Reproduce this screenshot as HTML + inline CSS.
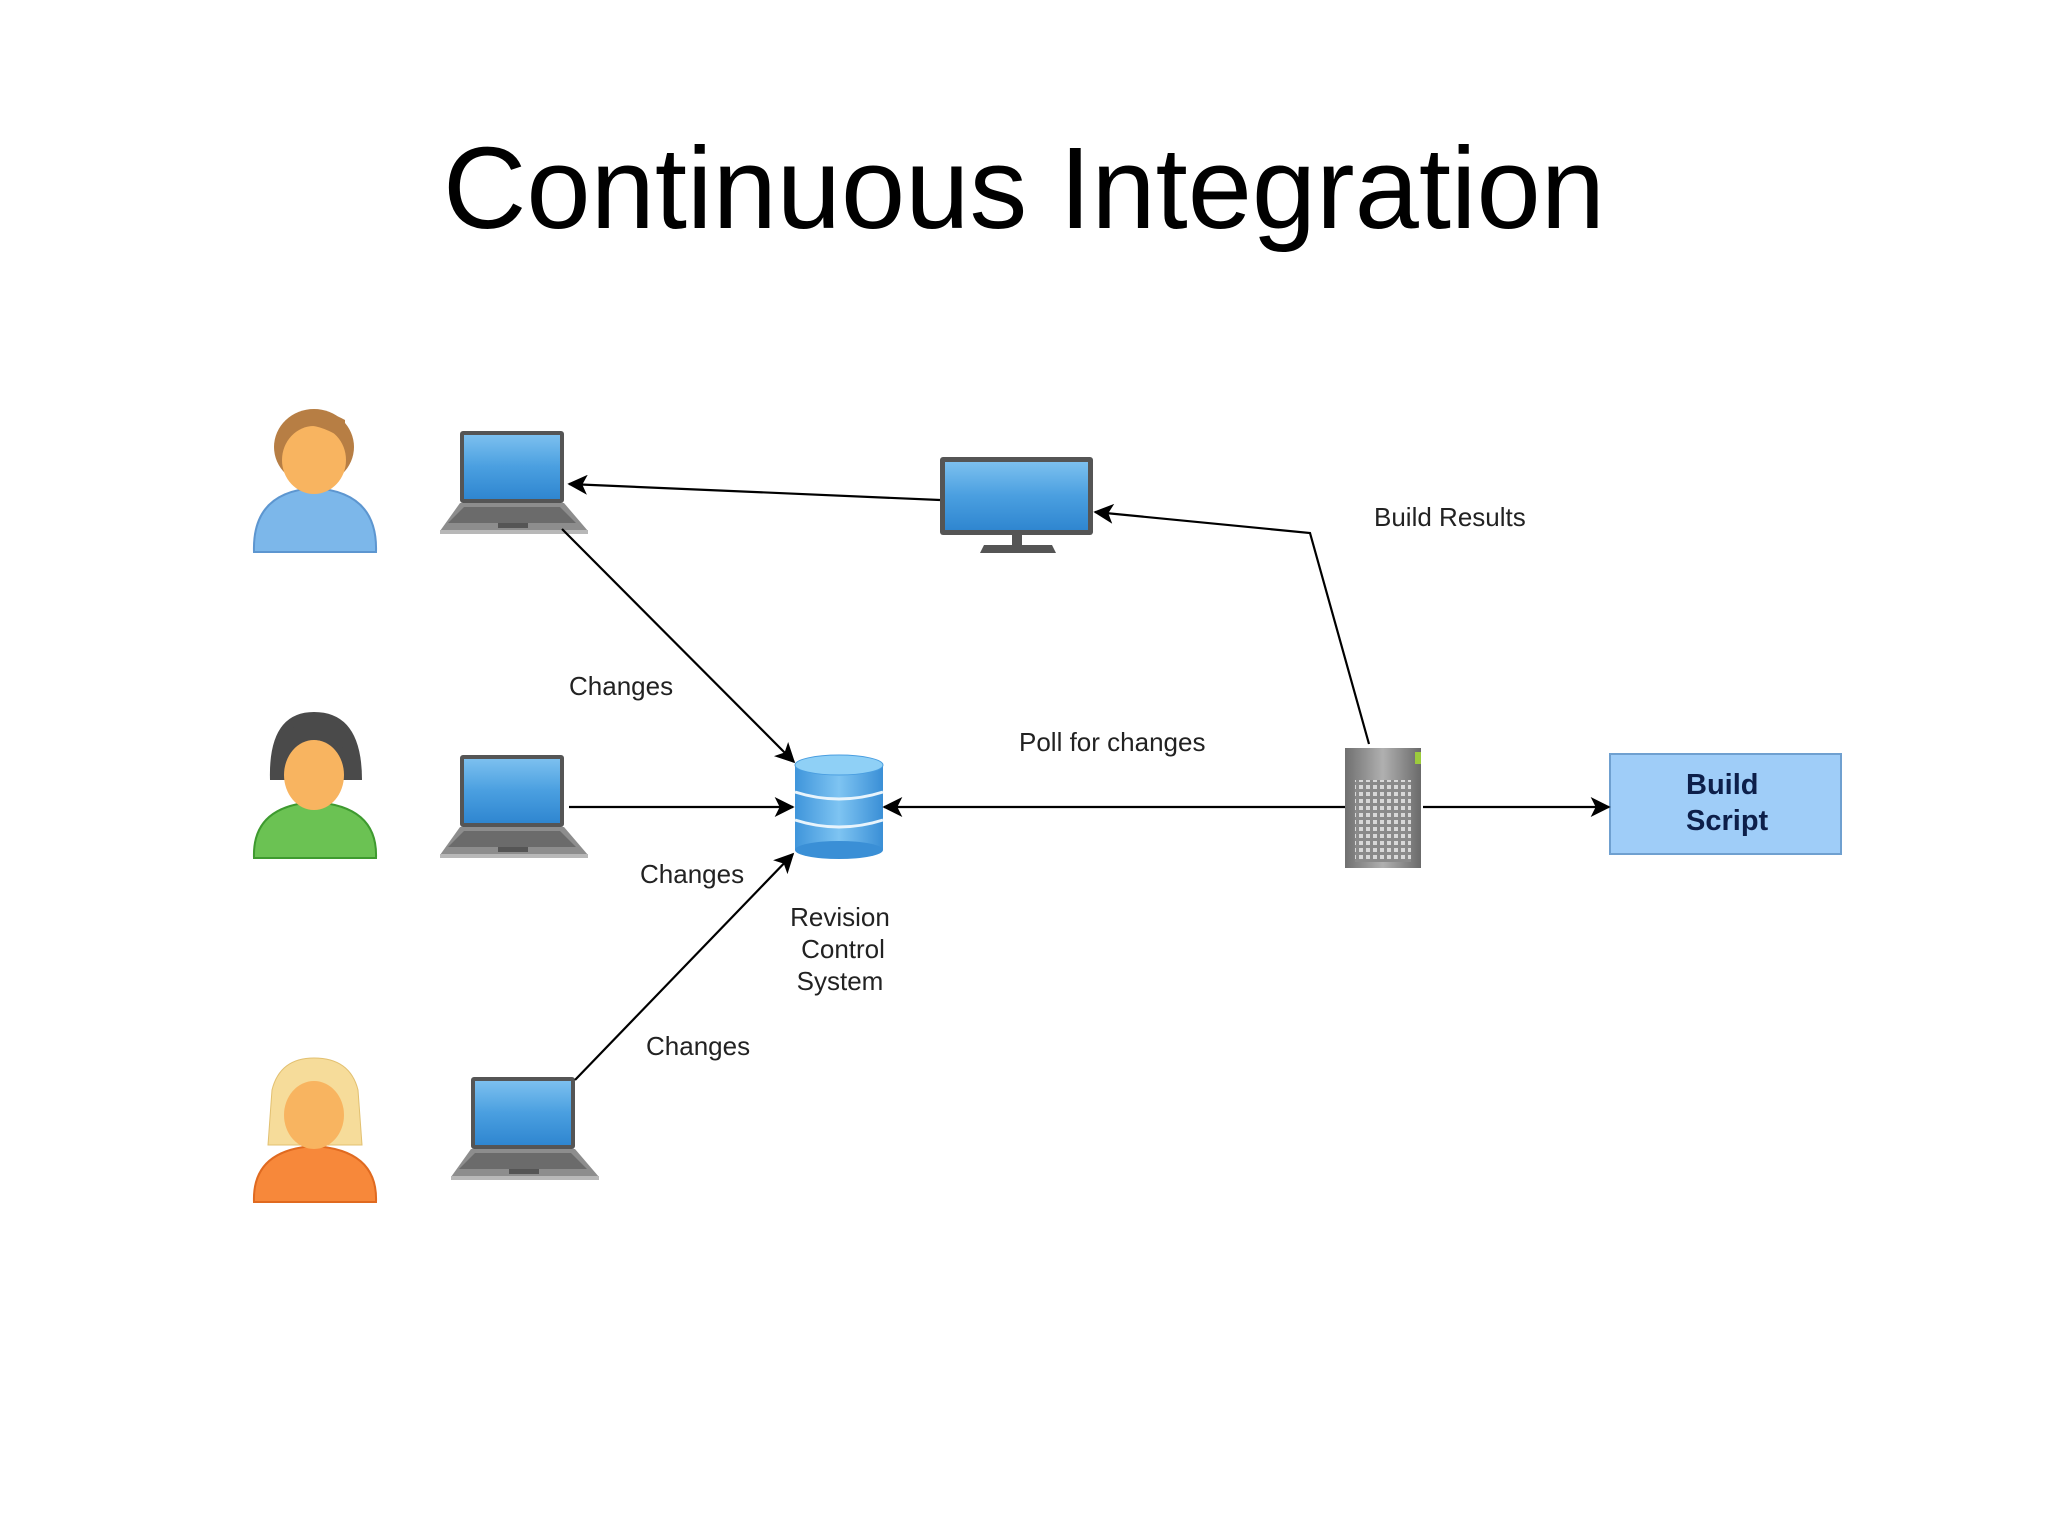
<!DOCTYPE html>
<html><head><meta charset="utf-8"><style>
html,body{margin:0;padding:0;background:#fff;}
svg{display:block;}
text{font-family:"Liberation Sans",sans-serif;}
</style></head><body>
<svg width="2048" height="1536" viewBox="0 0 2048 1536" xmlns="http://www.w3.org/2000/svg">
<defs>
<marker id="ah" viewBox="0 0 12 12" refX="11" refY="6" markerWidth="22" markerHeight="20" markerUnits="userSpaceOnUse" orient="auto">
<path d="M0,0 L12,6 L0,12 L3,6 Z" fill="#000"/></marker>
<linearGradient id="scr" x1="0" y1="0" x2="0" y2="1"><stop offset="0" stop-color="#7cc0ef"/><stop offset="0.5" stop-color="#4a9fe0"/><stop offset="1" stop-color="#2f86d0"/></linearGradient>
<linearGradient id="db" x1="0" y1="0" x2="1" y2="0"><stop offset="0" stop-color="#3f95db"/><stop offset="0.5" stop-color="#7ec4f2"/><stop offset="1" stop-color="#3a8fd6"/></linearGradient>
<linearGradient id="srv" x1="0" y1="0" x2="1" y2="0"><stop offset="0" stop-color="#707070"/><stop offset="0.5" stop-color="#b0b0b0"/><stop offset="1" stop-color="#6a6a6a"/></linearGradient>
<pattern id="grid" width="7" height="7" patternUnits="userSpaceOnUse"><rect width="7" height="7" fill="#8a8a8a"/><rect x="1" y="1" width="4" height="4" fill="#d8d8d8"/></pattern>
<g id="laptop">
<rect x="20" y="0" width="104" height="72" rx="3" fill="#555"/>
<rect x="24" y="4" width="96" height="64" fill="url(#scr)"/>
<path d="M20,72 L124,72 L148,100 L0,100 Z" fill="#8d8d8d"/>
<path d="M24,76 L120,76 L136,92 L8,92 Z" fill="#6b6b6b"/>
<rect x="58" y="92" width="30" height="5" fill="#555"/>
<rect x="0" y="99" width="148" height="4" fill="#b8b8b8"/>
</g>
</defs>

<text x="1024" y="228" text-anchor="middle" font-size="116" textLength="1162" lengthAdjust="spacingAndGlyphs" fill="#000">Continuous Integration</text>

<g>
<ellipse cx="314" cy="447" rx="40" ry="38" fill="#b77e44"/>
<path d="M254,552 Q252,492 314,488 Q378,492 376,552 Z" fill="#7cb7ea" stroke="#5d96d0" stroke-width="2"/>
<ellipse cx="314" cy="460" rx="32" ry="34" fill="#f8b460"/>
<path d="M280,442 Q300,410 345,440 L345,420 Q314,402 282,425 Z" fill="#b77e44"/>
</g>
<g>
<path d="M270,780 Q268,712 314,712 Q362,712 362,780 Z" fill="#4a4a4a"/>
<path d="M254,858 Q252,806 314,802 Q378,806 376,858 Z" fill="#6bc253" stroke="#3e9a2f" stroke-width="2"/>
<ellipse cx="314" cy="775" rx="30" ry="35" fill="#f8b460"/>
<path d="M280,760 Q295,725 348,750 L348,730 Q314,710 282,735 Z" fill="#4a4a4a"/>
</g>
<g>
<path d="M268,1145 L272,1090 Q280,1058 314,1058 Q350,1058 358,1090 L362,1145 Z" fill="#f6dc9a" stroke="#e2c070"/>
<path d="M254,1202 Q252,1150 314,1146 Q378,1150 376,1202 Z" fill="#f7883a" stroke="#e06a20" stroke-width="2"/>
<ellipse cx="314" cy="1115" rx="30" ry="34" fill="#f8b460"/>
</g>

<use href="#laptop" x="440" y="431"/>
<use href="#laptop" x="440" y="755"/>
<use href="#laptop" x="451" y="1077"/>

<rect x="940" y="457" width="153" height="78" rx="3" fill="#555"/>
<rect x="945" y="462" width="143" height="68" fill="url(#scr)"/>
<rect x="1012" y="535" width="10" height="10" fill="#555"/>
<path d="M984,545 L1052,545 L1056,553 L980,553 Z" fill="#555"/>

<g>
<rect x="795" y="765" width="88" height="85" fill="url(#db)"/>
<ellipse cx="839" cy="850" rx="44" ry="9" fill="#3a8fd6"/>
<ellipse cx="839" cy="765" rx="44" ry="10" fill="#8fd0f6" stroke="#4a9ee0"/>
<path d="M795,792 Q839,806 883,792" stroke="#e8f4fc" stroke-width="3" fill="none"/>
<path d="M795,820 Q839,834 883,820" stroke="#e8f4fc" stroke-width="3" fill="none"/>
</g>

<rect x="1345" y="748" width="76" height="120" fill="url(#srv)"/>
<rect x="1355" y="780" width="56" height="82" fill="url(#grid)"/>
<rect x="1415" y="752" width="6" height="12" fill="#9ccb3c"/>

<rect x="1610" y="754" width="231" height="100" fill="#9fcdf8" stroke="#6fa0d0" stroke-width="2"/>
<text x="1686" y="794" font-size="29" font-weight="bold" fill="#0d1f4a">Build</text>
<text x="1686" y="830" font-size="29" font-weight="bold" fill="#0d1f4a">Script</text>

<g stroke="#000" stroke-width="2.2" fill="none">
<line x1="940" y1="500" x2="569" y2="484" marker-end="url(#ah)"/>
<polyline points="1369,744 1310,533 1095,512" marker-end="url(#ah)"/>
<line x1="562" y1="529" x2="794" y2="762" marker-end="url(#ah)"/>
<line x1="569" y1="807" x2="793" y2="807" marker-end="url(#ah)"/>
<line x1="575" y1="1080" x2="793" y2="854" marker-end="url(#ah)"/>
<line x1="1345" y1="807" x2="884" y2="807" marker-end="url(#ah)"/>
<line x1="1423" y1="807" x2="1609" y2="807" marker-end="url(#ah)"/>
</g>

<g font-size="26" fill="#222">
<text x="1374" y="526">Build Results</text>
<text x="569" y="695">Changes</text>
<text x="1019" y="751">Poll for changes</text>
<text x="640" y="883">Changes</text>
<text x="646" y="1055">Changes</text>
<text x="840" y="926" text-anchor="middle">Revision</text>
<text x="843" y="958" text-anchor="middle">Control</text>
<text x="840" y="990" text-anchor="middle">System</text>
</g>
</svg>
</body></html>
